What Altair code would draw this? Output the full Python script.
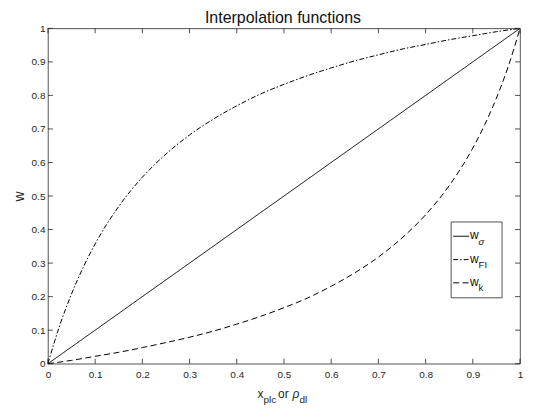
import altair as alt
import pandas as pd

# ---- data ----
tick_values = [0, 0.1, 0.2, 0.3, 0.4, 0.5, 0.6, 0.7, 0.8, 0.9, 1]

x_sigma = [0, 1]
w_sigma = [0, 1]

x_fi = [0, 0.025, 0.05, 0.075, 0.1, 0.15, 0.2, 0.25, 0.3, 0.35, 0.4, 0.45, 0.5,
        0.55, 0.6, 0.65, 0.7, 0.75, 0.8, 0.85, 0.9, 0.95, 1]
w_fi = [0, 0.114, 0.208, 0.288, 0.357, 0.469, 0.556, 0.625, 0.682, 0.729, 0.769,
        0.804, 0.833, 0.859, 0.882, 0.903, 0.921, 0.938, 0.952, 0.966, 0.978, 0.990, 1]

x_k = [0, 0.05, 0.1, 0.15, 0.2, 0.25, 0.3, 0.35, 0.4, 0.45, 0.5, 0.55, 0.6, 0.65,
       0.7, 0.75, 0.8, 0.85, 0.9, 0.925, 0.95, 0.975, 1]
w_k = [0, 0.010, 0.022, 0.034, 0.048, 0.063, 0.079, 0.097, 0.118, 0.141, 0.167,
       0.196, 0.231, 0.271, 0.318, 0.375, 0.444, 0.531, 0.643, 0.712, 0.792, 0.886, 1]

title_text = "Interpolation functions"
y_title = "w"
legend_main = ["w", "w", "w"]
legend_sub = ["σ", "FI", "k"]

# ---- styling ----
W, H = 473, 336
FONT = "Liberation Sans"
AX = "#262626"
SOLID = [1, 0]
DASHDOT = [5, 2, 1.5, 2]
DASHED = [6, 3.5]

xscale = alt.Scale(domain=[0, 1], nice=False, zero=False)
yscale = alt.Scale(domain=[0, 1], nice=False, zero=False)

xaxis = alt.Axis(values=tick_values, format="~g", ticks=False, tickSize=0, domain=False,
                 grid=False, labelPadding=6, labelFontSize=10, labelColor=AX,
                 labelFont=FONT, labelFlush=False, title=None)
yaxis = alt.Axis(values=tick_values, format="~g", ticks=False, tickSize=0, domain=False,
                 grid=False, labelPadding=3, labelFontSize=10, labelColor=AX,
                 labelFont=FONT, labelFlush=False, title=y_title, titleFontSize=14,
                 titleFontWeight="normal", titleFont=FONT, titleColor=AX,
                 titleAngle=270, titleX=-24, titleY=H / 2, titleBaseline="alphabetic",
                 titleAlign="center")


def curve(xs, ws, dash):
    df = pd.DataFrame({"x": xs, "w": ws})
    return alt.Chart(df).mark_line(color="black", strokeWidth=1, strokeDash=dash,
                                   interpolate="monotone").encode(
        x=alt.X("x:Q", scale=xscale, axis=xaxis, title=None),
        y=alt.Y("w:Q", scale=yscale, axis=yaxis, title=y_title),
    )


ticks_df = pd.DataFrame({"v": tick_values})
tick_mark = dict(color=AX, strokeWidth=0.8)
X_T = alt.X("v:Q", scale=xscale, axis=xaxis, title=None)
Y_T = alt.Y("v:Q", scale=yscale, axis=yaxis, title=y_title)
bottom_ticks = alt.Chart(ticks_df).mark_rule(**tick_mark).encode(
    x=X_T, y=alt.value(H), y2=alt.value(H - 5))
top_ticks = alt.Chart(ticks_df).mark_rule(**tick_mark).encode(
    x=X_T, y=alt.value(0), y2=alt.value(5))
left_ticks = alt.Chart(ticks_df).mark_rule(**tick_mark).encode(
    y=Y_T, x=alt.value(0), x2=alt.value(5))
right_ticks = alt.Chart(ticks_df).mark_rule(**tick_mark).encode(
    y=Y_T, x=alt.value(W), x2=alt.value(W - 5))

one = pd.DataFrame({"d": [0]})


def label(text, x, y, size, style="normal", color="#1a1a1a", align="left"):
    return alt.Chart(one).mark_text(font=FONT, fontSize=size, fontStyle=style, color=color,
                                    align=align, baseline="alphabetic").encode(
        x=alt.value(x), y=alt.value(y), text=alt.value(text))


title = label(title_text, W / 2 - 1, -5.5, 16, align="center", color="#111111")

xtitle = [
    label("x", 210, 370, 12, color=AX),
    label("plc", 216, 375.5, 10, color=AX),
    label("or", 230.5, 370, 12, color=AX),
    label("ρ", 245, 370, 12, style="italic", color=AX),
    label("dl", 252, 375.5, 10, color=AX),
]

# legend box
legend_box = alt.Chart(one).mark_rect(fill="white", stroke=AX, strokeWidth=0.8).encode(
    x=alt.value(404), x2=alt.value(455), y=alt.value(194), y2=alt.value(270))
rows_y = [208.3, 231.7, 255]
dashes = [SOLID, DASHDOT, DASHED]
legend_items = []
for ly, dash, main, sub in zip(rows_y, dashes, legend_main, legend_sub):
    legend_items.append(alt.Chart(one).mark_rule(color="black", strokeWidth=1, strokeDash=dash).encode(
        x=alt.value(406), x2=alt.value(422), y=alt.value(ly)))
    legend_items.append(label(main, 423, ly + 3, 12, color="#111111"))
    legend_items.append(label(sub, 431.5, ly + 8.3, 9.5,
                              style="italic" if sub == "σ" else "normal", color="#111111"))

chart = alt.layer(
    curve(x_sigma, w_sigma, SOLID),
    curve(x_fi, w_fi, DASHDOT),
    curve(x_k, w_k, DASHED),
    bottom_ticks, top_ticks, left_ticks, right_ticks,
    title, *xtitle, legend_box, *legend_items,
).properties(
    width=W, height=H,
    autosize=alt.AutoSizeParams(type="none"),
    padding={"left": 40, "top": 20, "right": 6, "bottom": 44},
    background="white",
).configure_view(stroke=AX, strokeWidth=0.8)

chart.save("out.html", embed_options={"renderer": "svg", "actions": False})
